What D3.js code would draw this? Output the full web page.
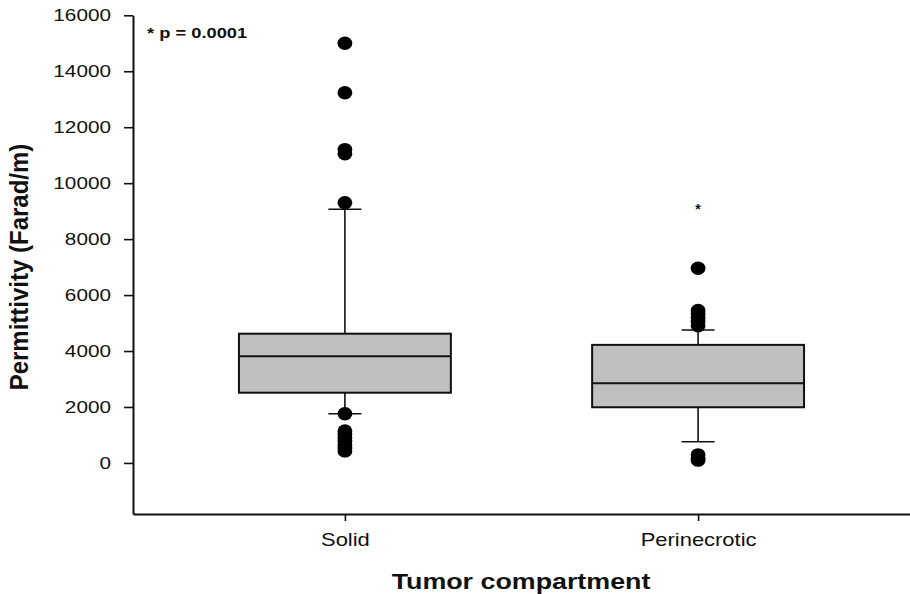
<!DOCTYPE html>
<html>
<head>
<meta charset="utf-8">
<script src="https://cdn.jsdelivr.net/npm/d3@7"></script>
<style>
  body { margin: 0; background: #fff; }
  text { font-family: 'Liberation Sans', Arial, sans-serif; fill: #111; }
</style>
</head>
<body>
<div id="canvas"></div>
<script>
// box plot values
var categories = ['Solid', 'Perinecrotic'];
var q1 = [2510, 1990];
var median = [3810, 2850];
var q3 = [4620, 4220];
var whiskerLow = [1760, 760];
var whiskerHigh = [9070, 4750];
var outliers = [
    [15000, 13230, 11200, 11050, 9300, 1760, 1140, 1020, 900, 780, 650, 530, 430],
    [6960, 5450, 5330, 5200, 5060, 4900, 290, 180, 100]
];
var yTicks = [0, 2000, 4000, 6000, 8000, 10000, 12000, 14000, 16000];

var stretch = 1.22;

var svg = d3.select('#canvas').append('svg')
    .attr('width', 910)
    .attr('height', 594);

var y = d3.scaleLinear()
    .domain([-1825, 16000])
    .range([514, 15.3]);

var x = d3.scalePoint()
    .domain(categories)
    .range([133, 910])
    .padding(0.6);

var boxW = x.step() * 0.6;
var capW = 33;

// widen text like the original (the picture is stretched sideways)
function widen(sel) {
    sel.each(function() {
        var t = d3.select(this);
        var tx = +t.attr('x') || 0;
        var ty = +t.attr('y') || 0;
        t.attr('x', 0).attr('y', 0)
            .attr('transform', 'translate(' + tx + ',' + ty + ') scale(' + stretch + ',1)');
    });
}

// axes
var yAxis = svg.append('g')
    .attr('transform', 'translate(133,0)')
    .call(d3.axisLeft(y).tickValues(yTicks).tickFormat(d3.format('d'))
        .tickSize(9).tickSizeOuter(0).tickPadding(13));
yAxis.selectAll('text').attr('font-size', 17).attr('font-family', null).call(widen);

var xAxis = svg.append('g')
    .attr('transform', 'translate(0,514)')
    .call(d3.axisBottom(x).tickSize(7).tickSizeOuter(0).tickPadding(12));
xAxis.selectAll('text').attr('font-size', 18).attr('font-family', null).call(widen);

svg.selectAll('.domain').attr('stroke', '#111').attr('stroke-width', 2);
svg.selectAll('.tick line').attr('stroke', '#111').attr('stroke-width', 1.6);

// boxes
var boxes = svg.selectAll('.box')
    .data(categories)
    .enter()
    .append('g')
    .attr('class', 'box');

boxes.append('line')
    .attr('x1', function(d) { return x(d); })
    .attr('x2', function(d) { return x(d); })
    .attr('y1', function(d, i) { return y(whiskerHigh[i]); })
    .attr('y2', function(d, i) { return y(q3[i]); })
    .attr('stroke', '#111').attr('stroke-width', 1.6);

boxes.append('line')
    .attr('x1', function(d) { return x(d); })
    .attr('x2', function(d) { return x(d); })
    .attr('y1', function(d, i) { return y(q1[i]); })
    .attr('y2', function(d, i) { return y(whiskerLow[i]); })
    .attr('stroke', '#111').attr('stroke-width', 1.6);

[whiskerHigh, whiskerLow].forEach(function(w) {
    boxes.append('line')
        .attr('x1', function(d) { return x(d) - capW / 2; })
        .attr('x2', function(d) { return x(d) + capW / 2; })
        .attr('y1', function(d, i) { return y(w[i]); })
        .attr('y2', function(d, i) { return y(w[i]); })
        .attr('stroke', '#111').attr('stroke-width', 1.6);
});

boxes.append('rect')
    .attr('x', function(d) { return x(d) - boxW / 2; })
    .attr('y', function(d, i) { return y(q3[i]); })
    .attr('width', boxW)
    .attr('height', function(d, i) { return y(q1[i]) - y(q3[i]); })
    .attr('fill', '#c0c0c0')
    .attr('stroke', '#111')
    .attr('stroke-width', 2);

boxes.append('line')
    .attr('x1', function(d) { return x(d) - boxW / 2; })
    .attr('x2', function(d) { return x(d) + boxW / 2; })
    .attr('y1', function(d, i) { return y(median[i]); })
    .attr('y2', function(d, i) { return y(median[i]); })
    .attr('stroke', '#111').attr('stroke-width', 2);

// outliers
boxes.selectAll('ellipse')
    .data(function(d, i) {
        return outliers[i].map(function(v) { return {cat: d, v: v}; });
    })
    .enter()
    .append('ellipse')
    .attr('cx', function(d) { return x(d.cat); })
    .attr('cy', function(d) { return y(d.v); })
    .attr('rx', 7.4)
    .attr('ry', 6.7)
    .attr('fill', '#000');

// significance marks
svg.append('text')
    .attr('x', x('Perinecrotic'))
    .attr('y', y(9160) + 7)
    .attr('text-anchor', 'middle')
    .attr('font-size', 14)
    .attr('font-weight', 'bold')
    .text('*');

svg.append('text')
    .attr('x', 147)
    .attr('y', 37.7)
    .attr('font-size', 15)
    .attr('font-weight', 'bold')
    .text('* p = 0.0001')
    .call(widen);

// axis titles
svg.append('text')
    .attr('x', 521)
    .attr('y', 589)
    .attr('text-anchor', 'middle')
    .attr('font-size', 22)
    .attr('font-weight', 'bold')
    .text('Tumor compartment')
    .call(widen);

svg.append('text')
    .attr('transform', 'translate(28,267) scale(1.05,1) rotate(-90)')
    .attr('text-anchor', 'middle')
    .attr('font-size', 24)
    .attr('font-weight', 'bold')
    .text('Permittivity (Farad/m)');
</script>
</body>
</html>
